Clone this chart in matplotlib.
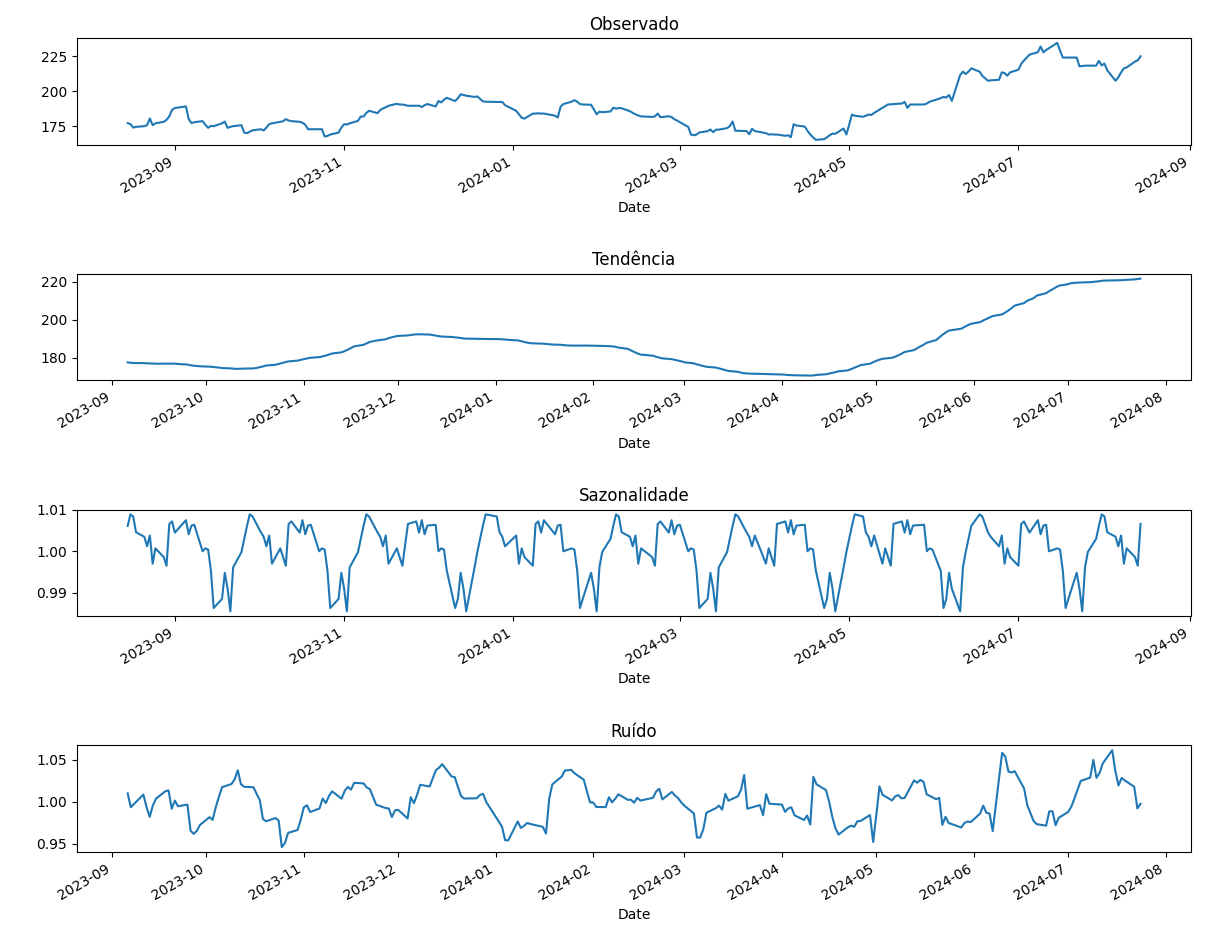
import numpy as np
import pandas as pd
import matplotlib
matplotlib.use("Agg")
import matplotlib.pyplot as plt

# trading days: business days minus exchange holidays
start_date = "2023-08-15"
end_date = "2024-08-14"
holidays = ["2023-09-04", "2023-11-23", "2023-12-25", "2024-01-01", "2024-01-15",
            "2024-02-19", "2024-03-29", "2024-05-27", "2024-06-19", "2024-07-04"]

# closing price, in trading-day order
price = [
    177.2, 176.5, 174.0, 174.5, 175.0,
    175.7, 180.5, 175.7, 177.0, 178.1,
    179.5, 182.0, 186.7, 188.0, 189.1,
    180.0, 177.2, 177.8,
    178.6, 176.0, 173.8, 175.2, 175.0,
    177.0, 178.3, 173.8, 174.5, 175.0,
    175.7, 170.4, 170.0, 171.0, 172.0,
    172.8, 171.9, 174.0, 176.4, 177.0,
    178.1, 178.5, 180.0, 179.0, 178.6,
    178.1, 177.5, 176.0, 172.8, 172.8,
    172.8, 172.8, 167.6, 168.0, 169.0,
    170.4, 174.0, 176.4, 176.2, 177.0,
    178.8, 181.9, 181.9, 184.5, 186.0,
    184.3, 186.5, 187.7, 188.5, 189.6,
    191.0, 190.5, 190.5, 189.6,
    189.6, 189.6, 188.7, 190.0, 190.8,
    189.1, 193.0, 192.0, 194.0, 195.3,
    193.0, 195.0, 197.8, 197.3, 196.8,
    195.9, 196.3, 194.5, 192.8, 192.5,
    192.3, 192.3, 192.3, 190.0,
    186.0, 183.5, 181.0, 180.4,
    184.0, 184.0, 184.2, 184.0, 184.0,
    182.5, 181.2, 188.9, 190.8,
    192.5, 193.6, 192.5, 190.8, 190.5,
    190.3, 187.0, 183.5, 185.4, 185.0,
    185.5, 188.2, 187.5, 188.0, 187.8,
    185.7, 184.5, 183.5, 182.6, 182.0,
    181.6, 182.0, 184.0, 181.4,
    182.1, 181.5, 180.0, 179.0, 177.8,
    174.5, 169.0, 168.5, 169.0, 170.5,
    171.4, 172.6, 170.7, 172.5, 172.5,
    173.6, 175.0, 178.3, 171.7, 171.7,
    171.5, 169.2, 173.1, 171.5,
    170.0, 169.0, 169.2, 169.0, 169.0,
    168.1, 168.5, 167.1, 176.4, 175.5,
    174.7, 171.6, 169.0, 167.0, 165.2,
    165.7, 167.0, 168.5, 169.7, 169.5,
    173.3, 169.0, 176.0, 183.3, 182.5,
    181.7, 182.5, 183.3, 183.0, 184.5,
    188.1, 189.3, 190.5, 190.6, 190.8,
    191.2, 192.4, 188.1, 190.5, 190.5,
    190.5, 191.2, 192.5, 193.1,
    195.0, 196.0, 195.5, 197.3, 193.1,
    211.6, 214.0, 212.3, 214.0, 216.4,
    214.0, 211.0, 207.5, 207.8,
    208.2, 213.5, 213.0, 211.1, 213.5,
    215.4, 219.5, 222.0, 226.2,
    227.9, 232.0, 227.9, 229.5, 230.8,
    234.6, 229.0, 224.1, 224.1, 224.1,
    224.1, 217.8, 218.0, 218.3, 218.3,
    218.3, 221.7, 218.5, 219.8, 215.0,
    207.5, 210.0, 213.5, 216.4, 217.0,
    221.2, 222.1, 225.0,
]

# seasonal factor for one 30-day cycle
season_cycle = [
    1.0061, 1.0089, 1.0084, 1.0046, 1.0035, 1.0012, 1.0038, 0.9970, 1.0007, 0.9986,
    0.9965, 1.0066, 1.0072, 1.0045, 1.0075, 1.0041, 1.0062, 1.0064, 1.0000, 1.0007,
    1.0004, 0.9953, 0.9863, 0.9885, 0.9948, 0.9910, 0.9855, 0.9961, 0.9998, 1.0030,
]
period = len(season_cycle)

dates = pd.bdate_range(start_date, end_date)
dates = dates[~dates.isin(pd.to_datetime(holidays))]
obs = pd.Series(price, index=dates)

# centred 2x30 moving average for the trend
w = np.r_[0.5, np.ones(period - 1), 0.5] / period
trend = obs.rolling(len(w), center=True).apply(lambda v: np.dot(v, w), raw=True)
seasonal = pd.Series(np.resize(season_cycle, len(obs)), index=dates)
resid = obs / (trend * seasonal)

parts = [(obs, "Observado"), (trend, "Tendência"),
         (seasonal, "Sazonalidade"), (resid, "Ruído")]

fig, axes = plt.subplots(4, 1, figsize=(12.13, 9.39), dpi=100)
for ax, (s, name) in zip(axes, parts):
    s = s.dropna()
    ax.plot(s.index, s.values, color="#1f77b4")
    ax.set_title(name)
    ax.set_xlabel("Date")
    for lbl in ax.get_xticklabels():
        lbl.set_rotation(30)
        lbl.set_ha("right")

fig.subplots_adjust(left=0.0635, right=0.982, top=0.9595, bottom=0.0927, hspace=1.21)
plt.savefig("out.png")
